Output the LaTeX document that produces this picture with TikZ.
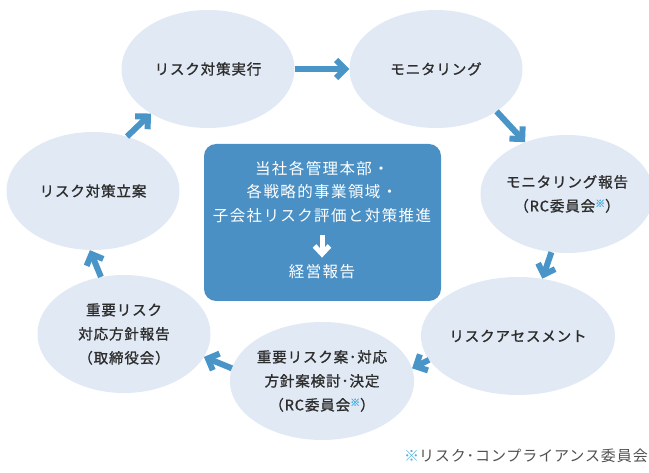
\documentclass[tikz,border=0pt]{standalone}
\usepackage{fontspec}
\setmainfont{Noto Sans CJK JP}
\newfontfamily\stagefont[LetterSpace=6,FakeBold=1.2]{Noto Sans CJK JP}
\newfontfamily\hqfont[LetterSpace=9]{Noto Sans CJK JP}
\newfontfamily\notefont[LetterSpace=6]{Noto Sans CJK JP}
\usetikzlibrary{arrows.meta,shapes.geometric}
\definecolor{stagefill}{RGB}{225,233,244}
\definecolor{stagetext}{RGB}{45,45,45}
\definecolor{boxblue}{RGB}{74,144,197}
\definecolor{flowblue}{RGB}{74,149,200}
\definecolor{starblue}{RGB}{70,175,230}
\definecolor{notegray}{RGB}{80,80,80}
\newcommand{\rcmark}{\raisebox{0.3em}{\color{starblue}\fontsize{10}{10}\selectfont ※}}

\begin{document}
\begin{tikzpicture}[x=1pt,y=1pt,yscale=-1,xscale=1,
  stage/.style={ellipse,fill=stagefill,minimum width=173pt,minimum height=118pt,inner sep=0pt,align=center,text=stagetext,font=\stagefont\fontsize{14.5}{24}\selectfont},
  hqbox/.style={fill=boxblue,rounded corners=12pt,minimum width=237pt,minimum height=157pt,inner sep=0pt},
  hqtext/.style={inner sep=0pt,align=center,text=white,font=\hqfont\fontsize{15.5}{23.5}\selectfont},
  flow/.style={draw=flowblue,line width=6pt,-{Straight Barb[length=9pt,width=18pt]}},
  downflow/.style={draw=white,line width=5pt,-{Straight Barb[length=8pt,width=15pt]}}]
\useasboundingbox (0,0) rectangle (649,473);

%Shape: Ellipse [cycle]
\node[stage] (exec) at (208,69) {\raisebox{-2pt}{リスク対策実行}};
\node[stage] (monitor) at (436,69) {\raisebox{-2pt}{モニタリング}};
\node[stage] (monreport) at (567,194) {モニタリング報告\\（RC委員会\rcmark）};
\node[stage] (assess) at (518,336) {リスクアセスメント};
\node[stage] (policy) at (322,381) {重要リスク案･対応\\方針案検討･決定\\（RC委員会\rcmark）};
\node[stage] (board) at (124,334) {重要リスク\\対応方針報告\\（取締役会）};
\node[stage] (plan) at (93,191) {リスク対策立案};

%Shape: Rounded Rect [centre]
\node[hqbox] (hq) at (322.5,222.5) {};
\node[hqtext] (hqtop) at (322,192) {当社各管理本部・\\各戦略的事業領域・\\子会社リスク評価と対策推進};
\node[hqtext] (hqreport) at (322,272) {経営報告};
\draw[downflow,shorten <=12pt,shorten >=7pt] (hqtop.south) -- (hqreport.north);

%Straight Lines [cycle arrows]
\draw[flow] (exec.east) -- (monitor.west);
\draw[flow] (monitor.-35) -- (monreport.129);
\draw[flow] (monreport.255) -- (assess.67);
\draw[flow] (assess.195) -- (policy.8);
\draw[flow] (policy.172) -- (board.-16);
\draw[flow] (board.112) -- (plan.267);
\draw[flow] (plan.58) -- (exec.218);

% Text Node
\node[anchor=east,inner sep=0pt,text=notegray,font=\notefont\fontsize{15}{16}\selectfont] (rcnote) at (648,456) {{\color{starblue}※}リスク･コンプライアンス委員会};
\end{tikzpicture}
\end{document}
